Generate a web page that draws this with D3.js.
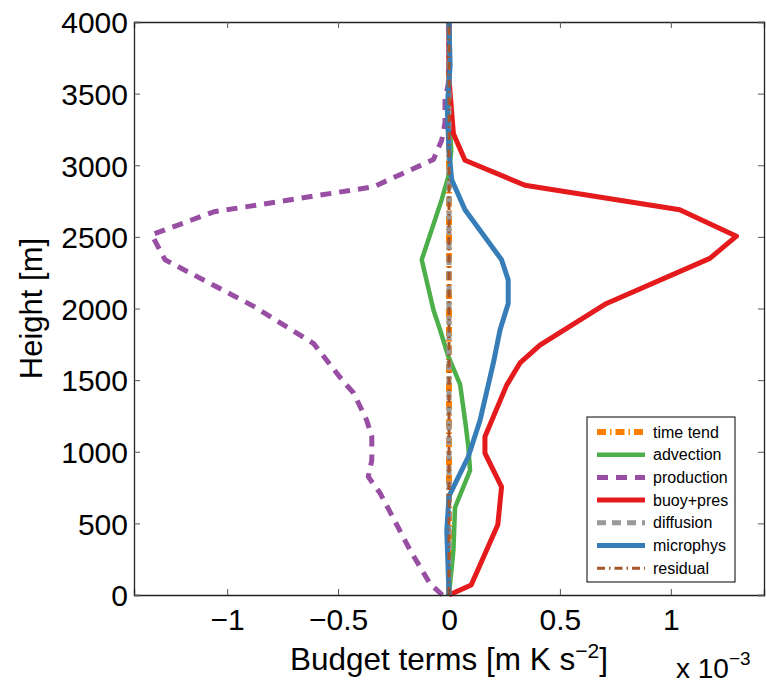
<!DOCTYPE html>
<html>
<head>
<meta charset="utf-8">
<script src="https://cdn.jsdelivr.net/npm/d3@7"></script>
<style>
	body { margin: 0; background: #fff; }
	text { font-family: "Liberation Sans", Arial, Helvetica, sans-serif; fill: #000; }
</style>
</head>
<body>
<div id="chart-container"></div>
<script>
// budget term values are in units of 10^-3 m K s^-2, heights in m
var x_ticks = [-1, -0.5, 0, 0.5, 1];
var y_ticks = [0, 500, 1000, 1500, 2000, 2500, 3000, 3500, 4000];

var time_tend_height = [0, 4000];
var time_tend_value = [0, 0];

var advection_height = [0, 315, 610, 870, 1035, 1190, 1470, 1665, 1850, 1990, 2340, 2760, 2920, 3100, 3400, 4000];
var advection_value = [0.0, 0.02, 0.027, 0.095, 0.087, 0.075, 0.05, -0.003, -0.04, -0.07, -0.123, -0.033, -0.003, 0.01, 0.0, 0.0];

var production_height = [0, 80, 315, 710, 825, 940, 1105, 1220, 1410, 1490, 1755, 2015, 2340, 2515, 2675, 2850, 3040, 3175, 3295, 3455, 3570, 4000];
var production_value = [-0.03, -0.086, -0.176, -0.31, -0.364, -0.348, -0.348, -0.371, -0.43, -0.476, -0.61, -0.88, -1.28, -1.34, -1.06, -0.34, -0.07, -0.033, -0.018, -0.018, -0.003, 0.0];

var buoy_pres_height = [0, 70, 490, 755, 990, 1105, 1465, 1620, 1745, 2035, 2350, 2505, 2690, 2860, 3035, 3220, 3410, 3600, 4000];
var buoy_pres_value = [0.0, 0.10, 0.22, 0.237, 0.162, 0.162, 0.26, 0.32, 0.41, 0.71, 1.176, 1.296, 1.04, 0.342, 0.072, 0.02, 0.01, 0.0, 0.0];

var diffusion_height = [0, 4000];
var diffusion_value = [0, 0];

var microphys_height = [0, 450, 690, 965, 1220, 1620, 1850, 2035, 2200, 2340, 2690, 2900, 3100, 3400, 3700, 4000];
var microphys_value = [0.0, -0.01, 0.0, 0.087, 0.14, 0.2, 0.23, 0.267, 0.267, 0.237, 0.072, 0.012, 0.0, -0.008, 0.005, 0.0];

var residual_height = [0, 4000];
var residual_value = [0, 0];

var series_names = ["time tend", "advection", "production", "buoy+pres", "diffusion", "microphys", "residual"];

draw_chart();

function draw_chart() {
	var width = 767, height = 683;
	var margin = {left: 134, right: 3, top: 22, bottom: 88};

	var svg = d3.select("#chart-container").append("svg")
				.attr("width", width)
				.attr("height", height);

	var x = d3.scaleLinear().domain([-1.42, 1.42]).range([margin.left, width - margin.right]);
	var y = d3.scaleLinear().domain([0, 4000]).range([height - margin.bottom, margin.top]);

	var series = [
		{name: series_names[0], h: time_tend_height, v: time_tend_value, color: "#ff7f00", width: 6, dash: "9,4,1.5,4"},
		{name: series_names[1], h: advection_height, v: advection_value, color: "#4daf4a", width: 4.5, dash: null},
		{name: series_names[2], h: production_height, v: production_value, color: "#984ea3", width: 5, dash: "11,8"},
		{name: series_names[3], h: buoy_pres_height, v: buoy_pres_value, color: "#e41a1c", width: 5, dash: null},
		{name: series_names[4], h: diffusion_height, v: diffusion_value, color: "#999999", width: 5, dash: "9,6"},
		{name: series_names[5], h: microphys_height, v: microphys_value, color: "#377eb8", width: 5, dash: null},
		{name: series_names[6], h: residual_height, v: residual_value, color: "#a65628", width: 3, dash: "8,4,1.5,4"}
	];

	var line = d3.line()
				 .x(function(d) { return x(d[1]); })
				 .y(function(d) { return y(d[0]); });

	var plot = svg.append("g");
	series.forEach(function(s) {
		var pts = s.h.map(function(h, i) { return [h, s.v[i]]; });
		plot.append("path")
			.attr("d", line(pts))
			.attr("fill", "none")
			.attr("stroke", s.color)
			.attr("stroke-width", s.width)
			.attr("stroke-dasharray", s.dash)
			.attr("stroke-linejoin", "round");
	});

	// axes, ticks pointing inward on all four sides
	var x_bottom = d3.axisBottom(x).tickValues(x_ticks).tickSize(-6).tickPadding(14).tickFormat(d3.format(""));
	var x_top = d3.axisTop(x).tickValues(x_ticks).tickSize(-6).tickFormat("");
	var y_left = d3.axisLeft(y).tickValues(y_ticks).tickSize(-6).tickPadding(6).tickFormat(d3.format("d"));
	var y_right = d3.axisRight(y).tickValues(y_ticks).tickSize(-6).tickFormat("");

	var gb = svg.append("g").attr("transform", "translate(0," + y(0) + ")").call(x_bottom);
	var gt = svg.append("g").attr("transform", "translate(0," + y(4000) + ")").call(x_top);
	var gl = svg.append("g").attr("transform", "translate(" + x.range()[0] + ",0)").call(y_left);
	var gr = svg.append("g").attr("transform", "translate(" + x.range()[1] + ",0)").call(y_right);

	[gb, gt, gl, gr].forEach(function(g) {
		g.select(".domain").attr("stroke", "#222").attr("stroke-width", 1.3);
		g.selectAll(".tick line").attr("stroke", "#555").attr("stroke-width", 1);
		g.selectAll(".tick text")
		 .style("font-family", "'Liberation Sans', Arial, sans-serif")
		 .style("font-size", "30px")
		 .attr("fill", "#000");
	});
	gl.selectAll(".tick text").attr("dy", "0.36em");

	svg.append("text")
	   .attr("transform", "translate(42," + (y(2000)) + ") rotate(-90)")
	   .attr("text-anchor", "middle")
	   .style("font-size", "31px")
	   .text("Height [m]");

	var xlabel = svg.append("text")
					.attr("x", 449)
					.attr("y", 670)
					.attr("text-anchor", "middle")
					.style("font-size", "31.5px");
	xlabel.append("tspan").text("Budget terms [m K s");
	xlabel.append("tspan").attr("dy", -12).style("font-size", "21px").text("\u22122");
	xlabel.append("tspan").attr("dy", 12).text("]");

	var scale_label = svg.append("text")
						 .attr("x", 676)
						 .attr("y", 678)
						 .style("font-size", "28px");
	scale_label.append("tspan").text("x 10");
	scale_label.append("tspan").attr("dy", -13).style("font-size", "19px").text("\u22123");

	create_legend(svg, series);
}

function create_legend(svg, series) {
	var legend = svg.append("g").attr("transform", "translate(587,417)");

	legend.append("rect")
		  .attr("width", 148)
		  .attr("height", 165)
		  .attr("fill", "#fff")
		  .attr("stroke", "#000")
		  .attr("stroke-width", 1);

	series.forEach(function(s, i) {
		var row = 15 + i * 22.7;
		legend.append("line")
			  .attr("x1", 10)
			  .attr("x2", 58)
			  .attr("y1", row)
			  .attr("y2", row)
			  .attr("stroke", s.color)
			  .attr("stroke-width", s.width)
			  .attr("stroke-dasharray", s.dash);
		legend.append("text")
			  .attr("x", 66)
			  .attr("y", row)
			  .attr("dy", "0.35em")
			  .style("font-size", "16px")
			  .text(s.name);
	});
}
</script>
</body>
</html>
